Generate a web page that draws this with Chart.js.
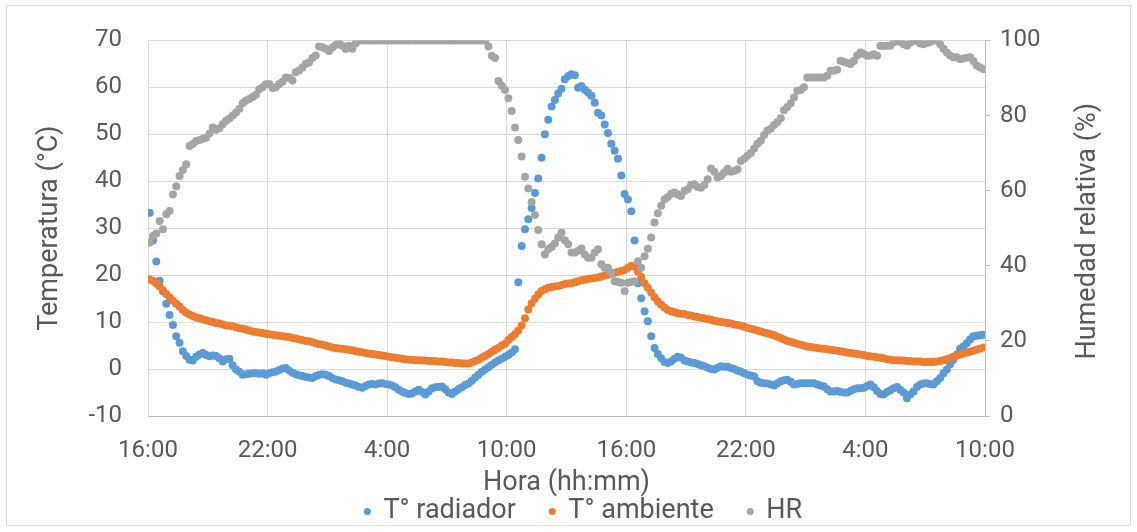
<!DOCTYPE html>
<html><head><meta charset="utf-8">
<script src="https://cdn.jsdelivr.net/npm/chart.js@4.4.1/dist/chart.umd.min.js"></script>
<style>
html,body{margin:0;padding:0;background:#fff;}
#wrap{position:relative;width:1137px;height:532px;}
#frame{position:absolute;left:6px;top:5px;width:1125px;height:521px;border:1px solid #d9d9d9;box-sizing:border-box;pointer-events:none;}
canvas{position:absolute;left:0;top:0;}
</style></head><body>
<div id="wrap"><canvas id="c" width="1137" height="532"></canvas><div id="frame"></div></div>
<script>
// Sampling: first reading 16:05, one reading every 10 minutes (x = hours after 16:00)
const inicioMin = 5;
const pasoMin = 10;
const tickHoras = ['16:00','22:00','4:00','10:00','16:00','22:00','4:00','10:00'];
const seriesNombres = ['T° radiador','T° ambiente','HR'];

const tRadiador = [
 33.3,27.4,22.9,18.8,16.5,13.9,
 11.5,9.4,7.0,5.6,3.8,2.8,
 2.0,1.8,2.6,3.1,3.4,3.0,
 2.7,2.9,2.8,2.3,1.6,2.1,
 2.2,0.8,-0.1,-0.6,-1.2,-1.1,
 -1.0,-0.9,-0.9,-1.0,-0.9,-1.2,
 -0.9,-0.7,-0.5,-0.2,0.1,0.2,
 -0.3,-0.8,-1.1,-1.3,-1.5,-1.7,
 -1.8,-1.9,-1.5,-1.2,-1.1,-1.2,
 -1.5,-1.9,-2.2,-2.4,-2.6,-2.9,
 -3.1,-3.3,-3.5,-3.8,-4.0,-3.6,
 -3.3,-3.2,-3.3,-3.1,-3.0,-3.2,
 -3.3,-3.5,-3.9,-4.4,-4.8,-5.1,
 -5.3,-5.2,-4.8,-4.4,-4.9,-5.4,
 -4.8,-4.1,-3.9,-3.8,-3.7,-4.3,
 -5.0,-5.3,-4.8,-4.3,-3.9,-3.4,
 -3.1,-2.5,-1.8,-1.2,-0.6,-0.1,
 0.4,0.9,1.4,1.8,2.2,2.6,
 3.0,3.5,4.2,18.5,26.2,29.8,
 31.9,34.3,37.5,40.6,45.0,50.0,
 53.1,55.9,57.3,58.7,59.7,61.7,
 62.4,62.8,62.6,59.9,60.3,59.5,
 58.9,58.2,56.7,54.6,54.0,52.1,
 50.3,48.0,46.5,44.8,41.2,37.3,
 36.1,33.6,27.4,18.3,15.1,12.3,
 10.2,7.0,4.5,3.2,2.3,1.5,
 1.3,1.6,2.2,2.6,2.4,1.8,
 1.6,1.4,1.3,1.1,0.8,0.6,
 0.3,0.0,-0.1,0.3,0.6,0.5,
 0.5,0.2,0.0,-0.3,-0.5,-0.9,
 -1.2,-1.4,-1.6,-2.6,-2.9,-3.0,
 -3.1,-3.3,-3.5,-3.0,-2.6,-2.4,
 -2.3,-2.7,-3.3,-3.2,-3.0,-3.0,
 -3.0,-3.0,-3.0,-3.3,-3.5,-3.7,
 -4.3,-4.8,-4.8,-4.7,-4.9,-5.0,
 -5.0,-4.7,-4.3,-4.1,-4.1,-4.0,
 -3.6,-3.3,-3.9,-4.7,-5.3,-5.4,
 -4.9,-4.5,-4.1,-3.8,-4.4,-5.0,
 -6.2,-5.4,-4.8,-3.8,-3.3,-3.1,
 -3.0,-3.2,-3.3,-2.6,-1.9,-0.9,
 -0.1,1.0,2.0,3.1,4.3,4.8,
 5.5,6.3,7.0,7.1,7.2,7.3
];

const tAmbiente = [
 19.1,18.8,18.2,17.6,16.8,16.0,
 15.3,14.6,13.9,13.3,12.6,12.0,
 11.6,11.3,11.0,10.8,10.6,10.4,
 10.2,10.0,9.8,9.7,9.5,9.3,
 9.2,9.1,8.9,8.7,8.6,8.4,
 8.2,8.0,7.9,7.8,7.7,7.5,
 7.4,7.3,7.2,7.1,7.0,6.9,
 6.8,6.6,6.5,6.3,6.2,6.0,
 5.9,5.7,5.5,5.3,5.2,5.0,
 4.8,4.6,4.5,4.4,4.3,4.2,
 4.1,4.0,3.8,3.7,3.6,3.4,
 3.3,3.2,3.1,3.0,2.9,2.8,
 2.6,2.5,2.4,2.3,2.2,2.1,
 2.0,2.0,1.9,1.9,1.8,1.8,
 1.7,1.7,1.7,1.6,1.6,1.5,
 1.4,1.4,1.3,1.3,1.2,1.2,
 1.2,1.4,1.7,2.0,2.4,2.8,
 3.2,3.7,4.1,4.5,5.0,5.4,
 6.2,6.8,7.4,8.2,9.3,10.8,
 12.7,14.0,15.0,15.9,16.6,17.0,
 17.3,17.5,17.6,17.7,17.9,18.1,
 18.2,18.3,18.5,18.7,18.9,19.0,
 19.2,19.3,19.4,19.5,19.7,19.9,
 20.1,20.3,20.5,20.7,20.9,21.1,
 21.6,22.0,21.8,20.8,19.6,18.3,
 17.3,16.3,15.3,14.4,13.7,13.1,
 12.6,12.3,12.1,11.9,11.8,11.7,
 11.5,11.4,11.2,11.1,10.9,10.8,
 10.6,10.5,10.3,10.2,10.0,9.9,
 9.8,9.7,9.5,9.4,9.2,9.0,
 8.8,8.6,8.4,8.2,8.0,7.8,
 7.6,7.4,7.2,6.9,6.6,6.3,
 6.0,5.8,5.6,5.4,5.2,5.0,
 4.8,4.7,4.6,4.5,4.4,4.3,
 4.2,4.1,4.0,3.9,3.8,3.7,
 3.5,3.4,3.3,3.2,3.1,3.0,
 2.8,2.7,2.6,2.5,2.4,2.3,
 2.1,2.0,1.9,1.9,1.8,1.8,
 1.7,1.7,1.6,1.6,1.6,1.5,
 1.5,1.5,1.5,1.6,1.7,1.9,
 2.1,2.3,2.6,2.9,3.1,3.3,
 3.5,3.7,3.9,4.1,4.3,4.6
];

const humedadRelativa = [
 46.1,47.9,48.6,51.9,49.7,53.7,
 54.6,59.0,61.2,63.9,65.5,67.0,
 71.9,72.4,73.2,73.5,73.8,74.1,
 75.2,76.8,76.2,76.6,77.7,78.6,
 79.2,80.0,80.8,81.8,83.3,84.0,
 84.4,84.9,85.5,87.0,87.5,88.3,
 88.4,87.3,87.6,88.4,89.0,90.1,
 90.0,89.3,91.5,92.0,92.8,93.8,
 94.1,95.3,96.0,98.4,98.2,97.8,
 97.2,98.1,98.8,99.5,98.6,97.7,
 98.6,97.8,99.2,100,100,100,
 100,100,100,100,100,100,
 100,100,100,100,100,100,
 100,100,100,100,100,100,
 100,100,100,100,100,100,
 100,100,100,100,100,100,
 100,100,100,100,100,100,
 98.4,95.9,95.3,89.2,87.9,86.8,
 84.6,81.2,76.8,73.5,69.1,63.7,
 60.6,57.0,53.5,49.5,45.7,43.0,
 44.4,45.0,45.9,47.5,48.8,46.8,
 45.7,43.5,43.5,44.0,44.6,43.0,
 42.1,42.1,43.5,44.4,40.4,39.5,
 39.5,38.1,35.9,35.7,35.5,33.2,
 35.5,35.7,35.9,41.2,39.5,42.5,
 44.5,47.5,51.5,54.0,56.0,57.7,
 58.3,59.2,59.5,59.0,58.6,59.9,
 60.4,61.5,61.7,61.0,60.8,61.5,
 63.0,65.9,65.0,63.5,63.9,64.8,
 65.8,65.0,65.2,65.7,67.9,68.5,
 69.3,70.0,71.2,72.5,73.3,74.8,
 76.0,76.5,77.5,78.3,79.3,81.4,
 82.3,83.3,84.8,86.6,86.8,87.5,
 90.1,90.1,90.1,90.1,90.1,90.1,
 90.6,91.9,91.9,92.2,94.6,94.3,
 94.0,93.7,94.5,96.0,96.8,96.4,
 95.9,96.0,96.3,95.9,98.6,98.5,
 98.6,98.6,99.5,100,99.6,99.0,
 98.6,99.4,100,99.8,99.2,99.0,
 99.3,99.6,100,100,99.0,97.8,
 96.8,96.0,95.5,95.5,95.0,95.2,
 95.4,95.5,94.5,93.3,92.8,92.4
];

const TXT = '#595959';
const FONT = 'Roboto';
const toPts = arr => arr.map((v, k) => ({x: (inicioMin + k * pasoMin) / 60, y: v}));

const rightTitle = {
  id: 'rightTitle',
  afterLayout(chart) {
    // Excel places the legend slightly right of the canvas centre
    chart.legend.left += 15;
    chart.legend.right += 15;
  },
  afterDraw(chart) {
    const c = chart.ctx;
    const a = chart.chartArea;
    c.save();
    c.translate(1088, (a.top + a.bottom) / 2 + 3);
    c.rotate(-Math.PI / 2);
    c.fillStyle = TXT;
    c.font = '27px ' + FONT;
    c.textAlign = 'center';
    c.textBaseline = 'middle';
    c.fillText('Humedad relativa (%)', 0, 0);
    c.restore();
  }
};

new Chart(document.getElementById('c'), {
  type: 'scatter',
  data: {
    datasets: [
      {label: seriesNombres[0], data: toPts(tRadiador), yAxisID: 'y', backgroundColor: '#5B9BD5', borderColor: '#5B9BD5', pointRadius: 4, pointBorderWidth: 0, order: 2},
      {label: seriesNombres[1], data: toPts(tAmbiente), yAxisID: 'y', backgroundColor: '#ED7D31', borderColor: '#ED7D31', pointRadius: 4, pointBorderWidth: 0, order: 1},
      {label: seriesNombres[2], data: toPts(humedadRelativa), yAxisID: 'y1', backgroundColor: '#A5A5A5', borderColor: '#A5A5A5', pointRadius: 4, pointBorderWidth: 0, order: 0}
    ]
  },
  options: {
    responsive: false,
    animation: false,
    devicePixelRatio: 1,
    layout: {padding: {top: 38, left: 0, right: 0, bottom: -3}},
    plugins: {
      legend: {
        position: 'bottom',
        labels: {
          usePointStyle: true, pointStyle: 'circle', boxWidth: 5, boxHeight: 5, padding: 34,
          color: TXT, font: {family: FONT, size: 27},
          sort: (a, b) => a.datasetIndex - b.datasetIndex
        }
      },
      tooltip: {enabled: false}
    },
    scales: {
      x: {
        type: 'linear', min: 0, max: 42,
        afterFit: s => { s.height = 48; },
        ticks: {stepSize: 6, autoSkip: false, maxRotation: 0, padding: 21, color: TXT, font: {family: FONT, size: 24},
          callback: (v, i) => tickHoras[i]},
        grid: {color: '#D9D9D9', drawTicks: false},
        border: {color: '#BFBFBF'},
        title: {display: true, text: 'Hora (hh:mm)', color: TXT, font: {family: FONT, size: 27}, padding: {top: 0, bottom: -35}}
      },
      y: {
        position: 'left', min: -10, max: 70,
        afterFit: s => { s.width = 148; },
        ticks: {stepSize: 10, padding: 26, color: TXT, font: {family: FONT, size: 24}},
        grid: {color: '#D9D9D9', drawTicks: false},
        border: {display: false},
        title: {display: true, text: 'Temperatura (°C)', color: TXT, font: {family: FONT, size: 27}, padding: {top: 34, bottom: 0}}
      },
      y1: {
        position: 'right', min: 0, max: 100,
        afterFit: s => { s.width = 152; },
        ticks: {stepSize: 20, padding: 10, color: TXT, font: {family: FONT, size: 24}},
        grid: {drawOnChartArea: false, tickLength: 5, tickColor: '#BFBFBF', color: '#BFBFBF'},
        border: {color: '#BFBFBF'}
      }
    }
  },
  plugins: [rightTitle]
});
</script>
</body></html>
